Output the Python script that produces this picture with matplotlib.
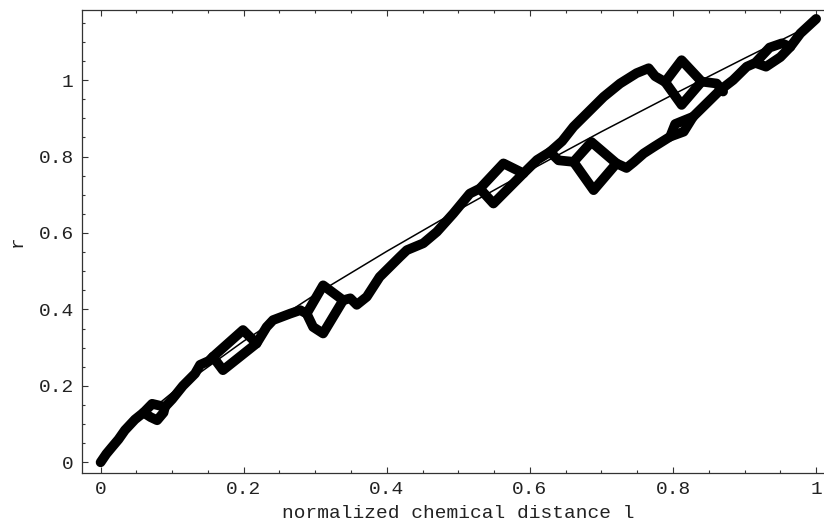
import numpy as np
import matplotlib
matplotlib.use("Agg")
import matplotlib.pyplot as plt
from matplotlib.ticker import FixedLocator, FuncFormatter

nan = np.nan

# thin reference curve
ref_l = [0.0, 0.005, 0.01, 0.02, 0.05, 0.1, 0.2, 0.3, 0.4, 0.5, 0.6, 0.7, 0.8, 0.9, 1.0]
ref_r = [0.0, 0.017, 0.029, 0.050, 0.105, 0.182, 0.317, 0.439, 0.552, 0.660, 0.764, 0.865, 0.962, 1.057, 1.150]

# main trace (one side of every loop), from start to end
main_l = [0.000, 0.008, 0.016, 0.025, 0.034, 0.048, 0.060, 0.072, 0.090, 0.100, 0.115, 0.132,
          0.139, 0.151, 0.157, 0.199, 0.218, 0.232, 0.241, 0.265, 0.279, 0.288, 0.311, 0.339,
          0.349, 0.358, 0.372, 0.390, 0.404, 0.418, 0.428, 0.451, 0.470, 0.493, 0.516, 0.530,
          0.563, 0.591, 0.610, 0.628, 0.640, 0.661, 0.686, 0.721, 0.735, 0.745, 0.759, 0.773,
          0.796, 0.803, 0.828, 0.847, 0.866, 0.884, 0.903, 0.915, 0.935, 0.952, 0.964, 0.978,
          1.000]
main_r = [0.000, 0.022, 0.040, 0.060, 0.084, 0.112, 0.130, 0.153, 0.145, 0.165, 0.200, 0.232,
          0.255, 0.265, 0.276, 0.346, 0.311, 0.354, 0.372, 0.389, 0.398, 0.389, 0.463, 0.424,
          0.429, 0.412, 0.433, 0.485, 0.511, 0.537, 0.555, 0.573, 0.603, 0.651, 0.703, 0.716,
          0.782, 0.756, 0.791, 0.812, 0.790, 0.786, 0.838, 0.782, 0.770, 0.785, 0.808, 0.825,
          0.852, 0.885, 0.904, 0.939, 0.974, 1.000, 1.035, 1.045, 1.085, 1.096, 1.087, 1.122,
          1.160]

# upper branch between l = 0.63 and l = 0.87
upper_l = [0.628, 0.645, 0.661, 0.689, 0.703, 0.726, 0.749, 0.766, 0.775, 0.789, 0.812, 0.840,
           0.861, 0.870]
upper_r = [0.812, 0.840, 0.878, 0.930, 0.956, 0.991, 1.018, 1.031, 1.010, 0.995, 1.052, 0.996,
           0.991, 0.970]

# other sides of the loops (segments separated by nan)
loops_l = [0.060, 0.070, 0.079, 0.088, 0.090, nan,
           0.157, 0.171, 0.218, nan,
           0.288, 0.297, 0.311, 0.339, nan,
           0.530, 0.549, 0.591, nan,
           0.661, 0.689, 0.721, nan,
           0.789, 0.812, 0.840, nan,
           0.796, 0.815, 0.828, nan,
           0.915, 0.930, 0.950, 0.964]
loops_r = [0.130, 0.118, 0.110, 0.130, 0.145, nan,
           0.276, 0.241, 0.311, nan,
           0.389, 0.354, 0.337, 0.424, nan,
           0.716, 0.677, 0.756, nan,
           0.786, 0.712, 0.782, nan,
           0.995, 0.935, 0.996, nan,
           0.852, 0.865, 0.904, nan,
           1.045, 1.035, 1.060, 1.087]

xticks = [0, 0.2, 0.4, 0.6, 0.8, 1]
yticks = [0, 0.2, 0.4, 0.6, 0.8, 1]

W, H = 824, 528
fig = plt.figure(figsize=(W / 100, H / 100), dpi=100)
ax_w = 834 - 82
ax_h = 473 - 9.5
ax = fig.add_axes([82 / W, (H - 473) / H, ax_w / W, ax_h / H])

font = "Liberation Mono"
fs = 14

thick = dict(color="black", lw=7, solid_capstyle="round", solid_joinstyle="round")
ax.plot(main_l, main_r, **thick)
ax.plot(upper_l, upper_r, **thick)
ax.plot(loops_l, loops_r, **thick)
ax.plot(ref_l, ref_r, color="black", lw=1.1)

ax.set_xlim(-0.026, 1.025)
ax.set_ylim(-0.028, 1.1846)

fmt = FuncFormatter(lambda v, p: f"{v:g}")
ax.xaxis.set_major_locator(FixedLocator(xticks))
ax.yaxis.set_major_locator(FixedLocator(yticks))
ax.xaxis.set_minor_locator(FixedLocator(np.arange(-0.0, 1.0001, 0.05)))
ax.yaxis.set_minor_locator(FixedLocator(np.arange(0.0, 1.18, 0.05)))
ax.xaxis.set_major_formatter(fmt)
ax.yaxis.set_major_formatter(fmt)
ax.tick_params(which="both", direction="in", top=True, right=True, width=0.8, color="#333333")
ax.tick_params(which="major", length=4.5, pad=6)
ax.tick_params(which="minor", length=2.5)
for lab in ax.get_xticklabels() + ax.get_yticklabels():
    lab.set_fontfamily(font)
    lab.set_fontsize(fs)
    lab.set_color("#222222")
for s in ax.spines.values():
    s.set_linewidth(0.9)
    s.set_color("#333333")

ax.set_xlabel("normalized chemical distance l", fontfamily=font, fontsize=fs, color="#222222", labelpad=5)
ax.set_ylabel("r", fontfamily=font, fontsize=fs, color="#222222")
ax.yaxis.set_label_coords((26 - 82) / ax_w, 0.5)

fig.savefig("out.png", dpi=100)
